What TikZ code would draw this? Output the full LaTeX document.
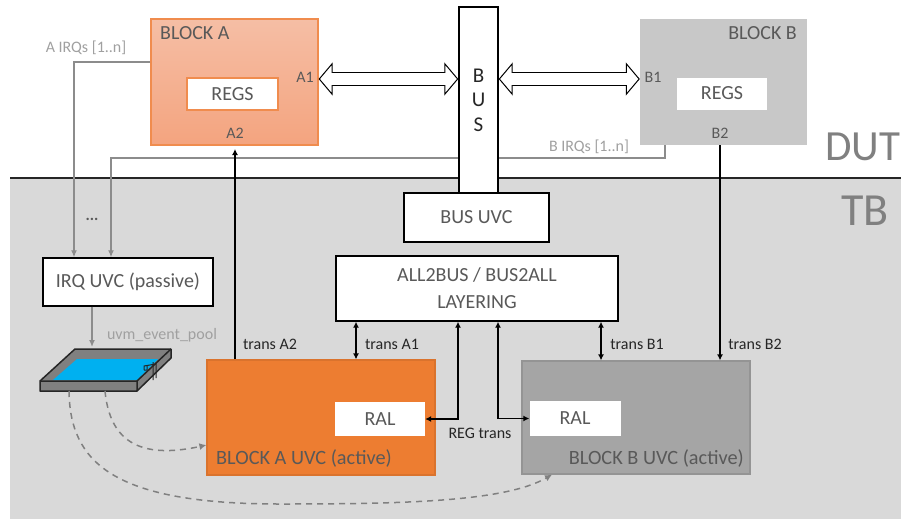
\documentclass[tikz,border=0pt]{standalone}
\usepackage{fontspec}
\setmainfont{Carlito}
\usetikzlibrary{arrows.meta}
\definecolor{txtgray}{HTML}{595959}
\definecolor{irqgray}{HTML}{8C8C8C}
\definecolor{lblgray}{HTML}{A0A0A0}
\definecolor{tbgray}{HTML}{D9D9D9}
\definecolor{uvcorange}{HTML}{ED7D31}
\definecolor{uvcgray}{HTML}{A5A5A5}
\definecolor{pooldeep}{HTML}{00B0F0}
\tikzset{
	box/.style={draw=black,line width=1.4pt,fill=white,inner sep=0pt,align=center,font=\fontsize{20}{24}\selectfont,text=txtgray},
	whitebox/.style={fill=white,inner sep=0pt,font=\fontsize{20}{24}\selectfont,text=txtgray},
	tag/.style={inner sep=0pt,font=\fontsize{16}{19}\selectfont,text=txtgray},
	title/.style={inner sep=0pt,font=\fontsize{20}{24}\selectfont,text=txtgray},
	note/.style={inner sep=0pt,font=\fontsize{16}{19}\selectfont,text=black!85},
	graynote/.style={inner sep=0pt,font=\fontsize{16}{19}\selectfont,text=lblgray},
	bigtitle/.style={inner sep=0pt,font=\fontsize{43}{48}\selectfont,text=black!50},
	sig/.style={line width=1.4pt,{Latex[length=6pt,width=6pt]}-{Latex[length=6pt,width=6pt]}},
	sigone/.style={line width=1.4pt,-{Latex[length=6pt,width=6pt]}},
	irq/.style={draw=irqgray,line width=1.3pt,-{Latex[length=7pt,width=6pt]}},
	evt/.style={draw=black!50,line width=1.5pt,dash pattern=on 6pt off 5pt,-{Latex[length=7pt,width=7pt]}},
	busarrow/.style={line width=1pt,double=white,double distance=11.5pt,{Triangle[open,length=14pt,width=33pt,fill=white]}-{Triangle[open,length=14pt,width=33pt,fill=white]}},
	buscover/.style={draw=white,line width=11.5pt,shorten >=12pt,shorten <=12pt}
}
\begin{document}
\begin{tikzpicture}[x=1pt,y=-1pt]
	\useasboundingbox (0,0) rectangle (901,519);
	% testbench area
	\fill[tbgray] (10,178) rectangle (901,519);
	\draw[line width=1.4pt,black!85] (10,178) -- (901,178);
	\node[bigtitle] (dut) at (863,147) {DUT};
	\node[bigtitle,font=\fontsize{46}{50}\selectfont] (tb) at (865,211) {TB};

	% design blocks
	\node[draw={rgb,255:red,240;green,140;blue,78},line width=1.2pt,top color={rgb,255:red,245;green,190;blue,165},bottom color={rgb,255:red,244;green,164;blue,127},minimum width=167pt,minimum height=126pt,inner sep=0pt] (blocka) at (234.5,82) {};
	\node[fill={rgb,255:red,200;green,200;blue,200},minimum width=167pt,minimum height=126pt,inner sep=0pt] (blockb) at (723.5,82) {};
	\node[whitebox,draw={rgb,255:red,240;green,140;blue,78},line width=1.2pt,minimum width=91pt,minimum height=32pt] (regsa) at (232.5,94) {REGS};
	\node[whitebox,minimum width=90pt,minimum height=32pt] (regsb) at (722,93.5) {REGS};
	\node[title,anchor=west] (blockatitle) at (160,33) {BLOCK A};
	\node[title,anchor=east] (blockbtitle) at (797,33) {BLOCK B};
	\node[tag] (porta1) at (305,77) {A1};
	\node[tag] (porta2) at (235,133) {A2};
	\node[tag] (portb1) at (653,77) {B1};
	\node[tag] (portb2) at (720,133) {B2};

	% irq wires run behind the bus
	\coordinate (irqa) at (blocka.west |- 0,62);
	\coordinate (irqb) at (665,145);
	\node[box,minimum width=170pt,minimum height=48pt] (irquvc) at (128,282) {IRQ UVC (passive)};
	\draw[irq] (irqa) -| (irquvc.north -| 74,0);
	\draw[irq] (irqb) |- (111,158) -- (irquvc.north -| 111,0);
	\node[graynote] (irqalbl) at (86,48) {A IRQs [1..n]};
	\node[graynote] (irqblbl) at (589,147) {B IRQs [1..n]};
	\node[inner sep=0pt,font=\fontsize{16}{19}\selectfont\bfseries,text=txtgray] (dots) at (92,219) {...};

	% bus and layers
	\node[box,font=\fontsize{21}{24.5}\selectfont,text=black!85,minimum width=39pt,minimum height=186pt] (bus) at (478.5,100) {B\\U\\S};
	\node[box,minimum width=145pt,minimum height=49pt] (busuvc) at (476.5,217.5) {BUS UVC};
	\node[box,font=\fontsize{20}{27}\selectfont,minimum width=282pt,minimum height=65pt] (layering) at (477,288.5) {ALL2BUS / BUS2ALL\\LAYERING};
	\coordinate (a1) at (blocka.east |- 0,79);
	\coordinate (b1) at (blockb.west |- 0,79);
	\draw[busarrow] (a1) -- (bus.west |- a1);
	\draw[buscover] (a1) -- (bus.west |- a1);
	\draw[busarrow] (bus.east |- b1) -- (b1);
	\draw[buscover] (bus.east |- b1) -- (b1);

	% uvcs
	\node[draw=black!8!uvcorange,line width=1.2pt,fill=uvcorange,minimum width=228pt,minimum height=115pt,inner sep=0pt] (uvca) at (321,417.5) {};
	\node[draw=black!10!uvcgray,line width=1.2pt,fill=uvcgray,minimum width=228pt,minimum height=113pt,inner sep=0pt] (uvcb) at (636,417.5) {};
	\node[whitebox,minimum width=90pt,minimum height=34pt] (rala) at (380,419) {RAL};
	\node[whitebox,minimum width=91pt,minimum height=35pt] (ralb) at (575,418.5) {RAL};
	\node[title,anchor=west,font=\fontsize{20.3}{24}\selectfont] (uvcatitle) at (216,458) {BLOCK A UVC (active)};
	\node[title,anchor=east,font=\fontsize{20.3}{24}\selectfont] (uvcbtitle) at (744,458) {BLOCK B UVC (active)};

	% black connections
	\draw[sigone] (uvca.north -| 235,0) -- (235,149);
	\draw[sigone] (blockb.south -| 720,0) -- (uvcb.north -| 720,0);
	\draw[sig] (layering.south -| 356,0) -- (uvca.north -| 356,0);
	\draw[sig] (layering.south -| 601,0) -- (uvcb.north -| 601,0);
	\draw[sig] (rala.east) -| (layering.south -| 458,0);
	\draw[sig] (layering.south -| 498,0) |- (ralb.west);
	\node[note] (transa2) at (270,344) {trans A2};
	\node[note] (transa1) at (392,344) {trans A1};
	\node[note] (transb1) at (637,344) {trans B1};
	\node[note] (transb2) at (755,344) {trans B2};
	\node[note] (regtrans) at (480,433) {REG trans};

	% event pool tray
	\fill[black!50,draw=black!85,line width=1.5pt,line join=round] (40,381) -- (75,349) -- (171,349) -- (171,358) -- (137,391) -- (40,391) -- cycle;
	\fill[pooldeep,draw=none] (53,380) -- (77,359) -- (158,359) -- (137,380) -- cycle;
	\draw[black!85,line width=1.5pt] (40,381) -- (137,381) -- (171,349) (137,381) -- (137,391);
	\draw[black!85,line width=1pt] (144,370) -- (144,366) -- (156,364) (147,366) -- (147,370) -- (144,370) (153,362) -- (153,380) (156,362) -- (156,378);
	\coordinate (traytop) at (92,347);
	\coordinate (trayl) at (69,391);
	\coordinate (trayr) at (105,391);
	\node[graynote] (poollbl) at (162,335) {uvm\_event\_pool};
	\draw[irq] (irquvc.south -| traytop) -- (traytop);
	\draw[evt] (trayr) .. controls (109,432) and (130,462) .. (uvca.west |- 0,445);
	\draw[evt] (trayl) .. controls (70,462) and (112,504) .. (280,504) .. controls (400,504) and (505,502) .. (uvcb.south -| 552,0);
\end{tikzpicture}
\end{document}
